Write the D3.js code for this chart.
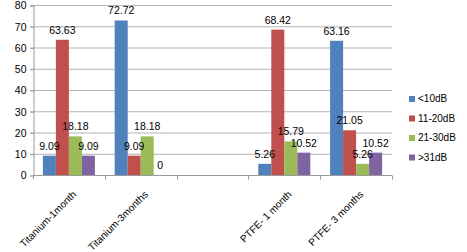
<!DOCTYPE html>
<html>
    <head>
        <meta charset="utf-8">
        <title></title>
        <script src="https://d3js.org/d3.v7.min.js"></script>
    </head>

    <body style="margin:0;background:#fff">
        <svg id="chart" width="467" height="252"></svg>
    </body>

    <script>

        // categories and series
        var categories = ["Titanium-1month", "Titanium-3months", "", "PTFE- 1 month", "PTFE- 3 months"]
        var series = ["<10dB", "11-20dB", "21-30dB", ">31dB"]
        var colors = ["#4F81BD", "#C0504D", "#9BBB59", "#8064A2"]

        var lt10 = [9.09, 72.72, null, 5.26, 63.16]
        var d11to20 = [63.63, 9.09, null, 68.42, 21.05]
        var d21to30 = [18.18, 18.18, null, 15.79, 5.26]
        var gt31 = [9.09, 0, null, 10.52, 10.52]
        var values = [lt10, d11to20, d21to30, gt31]

        var yTicks = [0, 10, 20, 30, 40, 50, 60, 70, 80]

        var svg = d3.select("svg")
        var font = "'Liberation Sans', Arial, sans-serif"

        var x = d3.scaleBand()
            .domain(d3.range(categories.length))
            .range([33, 392])

        var xs = d3.scaleBand()
            .domain(series)
            .range([0, x.bandwidth()])
            .paddingOuter(0.76)

        var y = d3.scaleLinear()
            .domain([0, 80])
            .range([175, 5])

        // gridlines
        svg.append("g")
            .selectAll("line")
            .data(yTicks.slice(1))
            .enter().append("line")
            .attr("x1", 30).attr("x2", 392)
            .attr("y1", function(d){ return y(d) + 0.5 })
            .attr("y2", function(d){ return y(d) + 0.5 })
            .style("stroke", "#b3b3b3")
            .style("stroke-width", 1)

        // y axis
        var yAxis = svg.append("g")
            .attr("transform", "translate(33.5,0.5)")
            .call(d3.axisLeft(y).tickValues(yTicks).tickSize(3).tickPadding(4))
        yAxis.select(".domain").style("stroke", "#9a9a9a")
        yAxis.selectAll(".tick line").style("stroke", "#9a9a9a")
        yAxis.selectAll("text")
            .style("font-family", font).style("font-size", "10.5px").style("fill", "#000")

        // bars
        var rows = []
        values.forEach(function(vals, si){
            vals.forEach(function(v, ci){
                if (v !== null) rows.push({s: si, c: ci, v: v})
            })
        })

        svg.append("g")
            .selectAll("rect")
            .data(rows)
            .enter().append("rect")
            .attr("x", function(d){ return x(d.c) + xs(series[d.s]) })
            .attr("width", xs.bandwidth())
            .attr("y", function(d){ return y(d.v) })
            .attr("height", function(d){ return y(0) - y(d.v) })
            .style("fill", function(d){ return colors[d.s] })

        // x axis
        var xAxis = svg.append("g")
            .attr("transform", "translate(0,175.5)")
        xAxis.append("line")
            .attr("x1", 33).attr("x2", 392)
            .style("stroke", "#9a9a9a")
        xAxis.selectAll("line.tk")
            .data(d3.range(categories.length + 1))
            .enter().append("line")
            .attr("class", "tk")
            .attr("x1", function(d){ return Math.round(33 + d * x.step()) + 0.5 })
            .attr("x2", function(d){ return Math.round(33 + d * x.step()) + 0.5 })
            .attr("y1", 0).attr("y2", 4)
            .style("stroke", "#9a9a9a")

        svg.append("g")
            .selectAll("text")
            .data(categories)
            .enter().append("text")
            .attr("transform", function(d, i){
                return "translate(" + (x(i) + x.bandwidth() / 2 + 8) + ",195) rotate(-45)"
            })
            .attr("text-anchor", "end")
            .style("font-family", font).style("font-size", "10px")
            .text(function(d){ return d })

        // data labels
        svg.append("g")
            .selectAll("text")
            .data(rows)
            .enter().append("text")
            .attr("x", function(d){ return x(d.c) + xs(series[d.s]) + xs.bandwidth() / 2 })
            .attr("y", function(d){ return y(d.v) - 6 })
            .attr("text-anchor", "middle")
            .style("font-family", font).style("font-size", "10.5px")
            .text(function(d){ return String(d.v) })

        // legend
        var legend = svg.append("g")
            .selectAll("g")
            .data(series)
            .enter().append("g")
            .attr("transform", function(d, i){ return "translate(409," + (96 + i * 19.5) + ")" })
        legend.append("rect")
            .attr("width", 6).attr("height", 6)
            .style("fill", function(d, i){ return colors[i] })
        legend.append("text")
            .attr("x", 9).attr("y", 6)
            .style("font-family", font).style("font-size", "10px")
            .text(function(d){ return d })

    </script>
</html>
